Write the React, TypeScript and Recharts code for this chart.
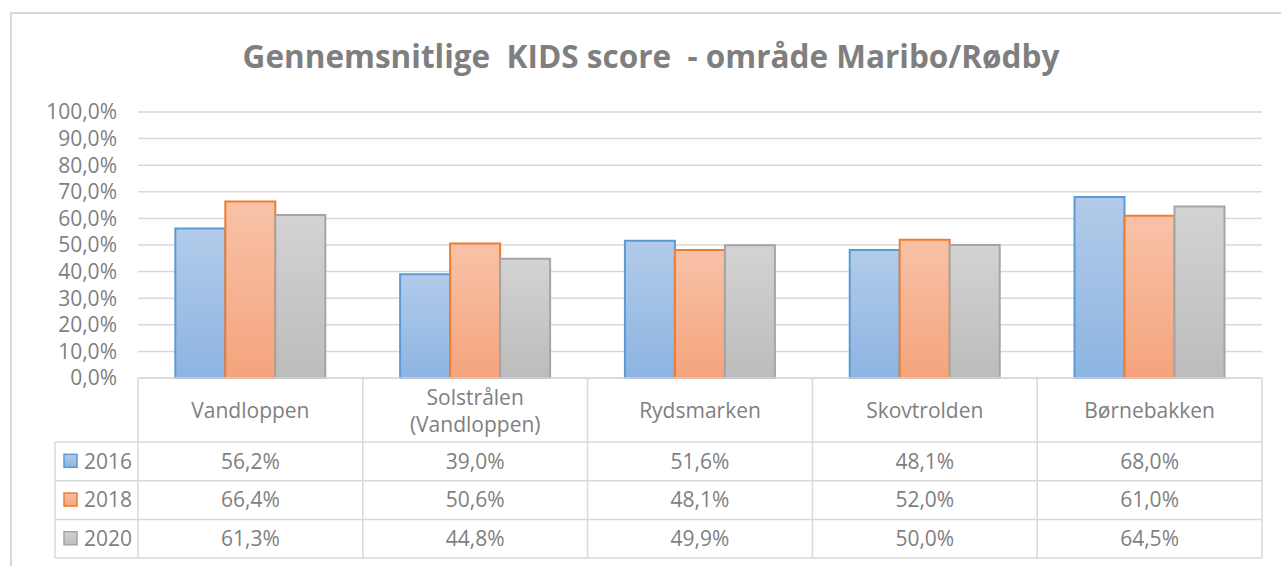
import { BarChart, Bar, XAxis, YAxis, CartesianGrid } from 'recharts';

const categories = ['Vandloppen', 'Solstrålen\n(Vandloppen)', 'Rydsmarken', 'Skovtrolden', 'Børnebakken'];
const values2016 = [56.2, 39.0, 51.6, 48.1, 68.0];
const values2018 = [66.4, 50.6, 48.1, 52.0, 61.0];
const values2020 = [61.3, 44.8, 49.9, 50.0, 64.5];
const yTicks = [0, 10, 20, 30, 40, 50, 60, 70, 80, 90, 100];

const series = [
  { key: 'y2016', name: '2016', values: values2016, stroke: '#5b9bd5', top: '#b2cbe9', bottom: '#8db4e2' },
  { key: 'y2018', name: '2018', values: values2018, stroke: '#ed7d31', top: '#f8c2a8', bottom: '#f4a47c' },
  { key: 'y2020', name: '2020', values: values2020, stroke: '#a5a5a5', top: '#d3d3d3', bottom: '#bcbcbc' },
];

const data = categories.map((name, i) => {
  const row: Record<string, string | number> = { name };
  series.forEach((s) => {
    row[s.key] = s.values[i];
  });
  return row;
});

// layout
const W = 1281;
const H = 566;
const PLOT_LEFT = 138;
const PLOT_RIGHT = 1262;
const PLOT_TOP = 112;
const PLOT_BOTTOM = 378;
const CELL_W = (PLOT_RIGHT - PLOT_LEFT) / categories.length;
const LEGEND_LEFT = 55;
const HEADER_H = 64;
const ROW_H = 38.7;
const GRID = '#d9d9d9';
const TEXT = '#7f7f7f';
const FONT = "'Open Sans', sans-serif";

const pct = (v: number) => `${v.toFixed(1).replace('.', ',')}%`;

function TableTick(props: any) {
  const { x, y, payload } = props;
  const i = payload.index;
  const left = x - CELL_W / 2;
  const right = x + CELL_W / 2;
  const bottom = y + HEADER_H + ROW_H * series.length;
  const lines = String(payload.value).split('\n');
  const headerMid = y + HEADER_H / 2 + 1;

  return (
    <g>
      <line x1={right} y1={y} x2={right} y2={bottom} stroke={GRID} strokeWidth={1.5} />
      {series.map((s, r) => (
        <line
          key={s.key}
          x1={left}
          x2={right}
          y1={y + HEADER_H + ROW_H * (r + 1)}
          y2={y + HEADER_H + ROW_H * (r + 1)}
          stroke={GRID}
          strokeWidth={1.5}
        />
      ))}
      <line x1={left} x2={right} y1={y + HEADER_H} y2={y + HEADER_H} stroke={GRID} strokeWidth={1.5} />
      {lines.map((t, k) => (
        <text
          key={k}
          x={x}
          y={headerMid + (k - (lines.length - 1) / 2) * 27}
          dy="0.35em"
          textAnchor="middle"
          fill={TEXT}
          fontSize={21}
          fontFamily={FONT}
        >
          {t}
        </text>
      ))}
      {series.map((s, r) => (
        <text
          key={s.key}
          x={x}
          y={y + HEADER_H + ROW_H * (r + 0.5)}
          dy="0.35em"
          textAnchor="middle"
          fill={TEXT}
          fontSize={21}
          fontFamily={FONT}
        >
          {pct(s.values[i])}
        </text>
      ))}
      {i === 0 && (
        <g>
          <line x1={left} y1={y} x2={left} y2={bottom} stroke={GRID} strokeWidth={1.5} />
          <line x1={LEGEND_LEFT} y1={y + HEADER_H} x2={LEGEND_LEFT} y2={bottom} stroke={GRID} strokeWidth={1.5} />
          <line x1={LEGEND_LEFT} x2={left} y1={y + HEADER_H} y2={y + HEADER_H} stroke={GRID} strokeWidth={1.5} />
          {series.map((s, r) => {
            const cy = y + HEADER_H + ROW_H * (r + 0.5);
            return (
              <g key={s.key}>
                <line
                  x1={LEGEND_LEFT}
                  x2={left}
                  y1={y + HEADER_H + ROW_H * (r + 1)}
                  y2={y + HEADER_H + ROW_H * (r + 1)}
                  stroke={GRID}
                  strokeWidth={1.5}
                />
                <rect x={64} y={cy - 7} width={13} height={13} fill={`url(#grad-${s.key})`} stroke={s.stroke} strokeWidth={1.5} />
                <text x={84} y={cy} dy="0.35em" fill={TEXT} fontSize={21} fontFamily={FONT}>
                  {s.name}
                </text>
              </g>
            );
          })}
        </g>
      )}
    </g>
  );
}

export default function App() {
  return (
    <div
      style={{
        position: 'absolute',
        left: 0,
        top: 0,
        width: W,
        height: H,
        overflow: 'hidden',
        background: '#ffffff',
      }}
    >
      <div
        style={{
          position: 'absolute',
          left: 10,
          top: 12,
          width: 1320,
          height: 620,
          border: `2px solid ${GRID}`,
        }}
      />
      <svg width={W} height={100} style={{ position: 'absolute', left: 0, top: 0 }}>
        <text
          x={651}
          y={68}
          textAnchor="middle"
          fill={TEXT}
          fontSize={31.5}
          fontWeight={700}
          fontFamily={FONT}
          style={{ whiteSpace: 'pre' }}
        >
          {'Gennemsnitlige  KIDS score  - område Maribo/Rødby'}
        </text>
      </svg>
      <div style={{ position: 'absolute', left: 0, top: 0 }}>
        <BarChart
          width={W}
          height={H}
          data={data}
          margin={{ top: PLOT_TOP, right: W - PLOT_RIGHT, bottom: 0, left: 0 }}
          barCategoryGap="16.6%"
          barGap={0}
        >
          <defs>
            {series.map((s) => (
              <linearGradient key={s.key} id={`grad-${s.key}`} x1="0" y1="0" x2="0" y2="1">
                <stop offset="0%" stopColor={s.top} />
                <stop offset="100%" stopColor={s.bottom} />
              </linearGradient>
            ))}
          </defs>
          <CartesianGrid vertical={false} stroke={GRID} strokeWidth={1.5} />
          <YAxis
            width={PLOT_LEFT}
            domain={[0, 100]}
            ticks={yTicks}
            interval={0}
            tickFormatter={pct}
            axisLine={false}
            tickLine={false}
            tickSize={0}
            tickMargin={21}
            tick={{ fill: TEXT, fontSize: 21, fontFamily: FONT }}
          />
          <XAxis
            dataKey="name"
            height={H - PLOT_BOTTOM}
            interval={0}
            axisLine={{ stroke: GRID, strokeWidth: 1.5 }}
            tickLine={false}
            tickSize={0}
            tickMargin={0}
            tick={<TableTick />}
          />
          {series.map((s) => (
            <Bar
              key={s.key}
              dataKey={s.key}
              name={s.name}
              fill={`url(#grad-${s.key})`}
              stroke={s.stroke}
              strokeWidth={2}
              isAnimationActive={false}
            />
          ))}
        </BarChart>
      </div>
    </div>
  );
}
